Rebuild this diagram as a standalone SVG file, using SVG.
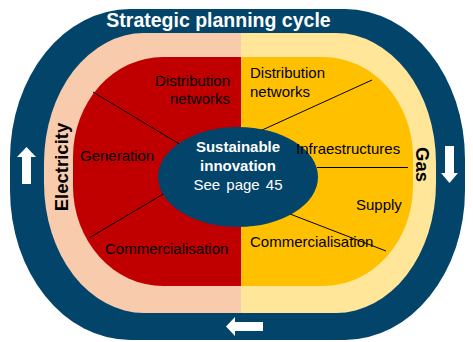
<svg xmlns="http://www.w3.org/2000/svg" width="473" height="342" viewBox="0 0 473 342">
  <defs>
    <clipPath id="half-left"><rect x="0" y="0" width="241" height="342"/></clipPath>
    <clipPath id="half-right"><rect x="241" y="0" width="232" height="342"/></clipPath>
    <style>
      .navy { fill: #03446A; }
      .arrow { fill: #FFFFFF; }
      .title { font-family: "Liberation Sans", Arial, sans-serif; font-weight: bold; font-size: 19.5px; fill: #FFFFFF; }
      .side { font-family: "Liberation Sans", Arial, sans-serif; font-weight: bold; font-size: 18.5px; fill: #000000; }
      .label { font-family: "Liberation Sans", Arial, sans-serif; font-size: 15px; fill: #000000; }
      .core-bold { font-family: "Liberation Sans", Arial, sans-serif; font-weight: bold; font-size: 15px; fill: #FFFFFF; }
      .core-text { font-family: "Liberation Sans", Arial, sans-serif; font-size: 15px; fill: #FFFFFF; }
      .link { stroke: #000000; stroke-width: 1; fill: none; }
    </style>
  </defs>

  <!-- outer planning-cycle ring with direction arrows -->
  <g id="cycle">
    <rect class="navy" x="10" y="9" width="455" height="331" rx="120" ry="150"/>
    <text class="title" x="218.5" y="27" text-anchor="middle">Strategic planning cycle</text>
    <polygon class="arrow" points="26.5,147 36,157 31,157 31,184 22,184 22,157 17,157"/>
    <polygon class="arrow" points="445,146 454,146 454,173 458,173 449.5,183 441,173 445,173"/>
    <polygon class="arrow" points="226,326.5 235,317 235,322 263,322 263,331 235,331 235,336"/>
  </g>

  <!-- business bands -->
  <g id="band-electricity">
    <rect x="44" y="33" width="392" height="280" rx="100" ry="130" fill="#F8CBAD" clip-path="url(#half-left)"/>
    <text class="side" transform="translate(68,167) rotate(-90)" text-anchor="middle">Electricity</text>
  </g>
  <g id="band-gas">
    <rect x="44" y="33" width="392" height="280" rx="100" ry="130" fill="#FFE699" clip-path="url(#half-right)"/>
    <text class="side" transform="translate(416,164.5) rotate(90)" text-anchor="middle">Gas</text>
  </g>

  <!-- activity areas -->
  <rect x="73" y="57" width="340" height="229" rx="90" ry="100" fill="#C00000" clip-path="url(#half-left)"/>
  <rect x="73" y="57" width="340" height="229" rx="90" ry="100" fill="#FFC000" clip-path="url(#half-right)"/>

  <!-- separators between activities -->
  <g id="connectors">
    <line class="link" x1="93" y1="92" x2="181" y2="145"/>
    <line class="link" x1="372" y1="80" x2="260" y2="131"/>
    <line class="link" x1="317" y1="167.5" x2="408" y2="167.5"/>
    <line class="link" x1="89" y1="238" x2="165" y2="193"/>
    <line class="link" x1="290" y1="214" x2="386" y2="251"/>
  </g>

  <!-- central hub -->
  <g id="innovation">
    <ellipse class="navy" cx="238" cy="177" rx="80" ry="50"/>
    <text class="core-bold" x="238" y="152" text-anchor="middle">Sustainable</text>
    <text class="core-bold" x="238" y="171" text-anchor="middle">innovation</text>
    <text class="core-text" x="238" y="190" text-anchor="middle" word-spacing="2">See page 45</text>
  </g>

  <!-- electricity activities -->
  <g id="elec-distribution">
    <text class="label" x="230" y="86" text-anchor="end">Distribution</text>
    <text class="label" x="230" y="104" text-anchor="end">networks</text>
  </g>
  <g id="elec-generation">
    <text class="label" x="80" y="161">Generation</text>
  </g>
  <g id="elec-commercialisation">
    <text class="label" x="105" y="254">Commercialisation</text>
  </g>

  <!-- gas activities -->
  <g id="gas-distribution">
    <text class="label" x="250" y="78">Distribution</text>
    <text class="label" x="250" y="97">networks</text>
  </g>
  <g id="gas-infrastructures">
    <text class="label" x="296" y="154">Infraestructures</text>
  </g>
  <g id="gas-supply">
    <text class="label" x="356" y="210">Supply</text>
  </g>
  <g id="gas-commercialisation">
    <text class="label" x="250" y="247">Commercialisation</text>
  </g>
</svg>
